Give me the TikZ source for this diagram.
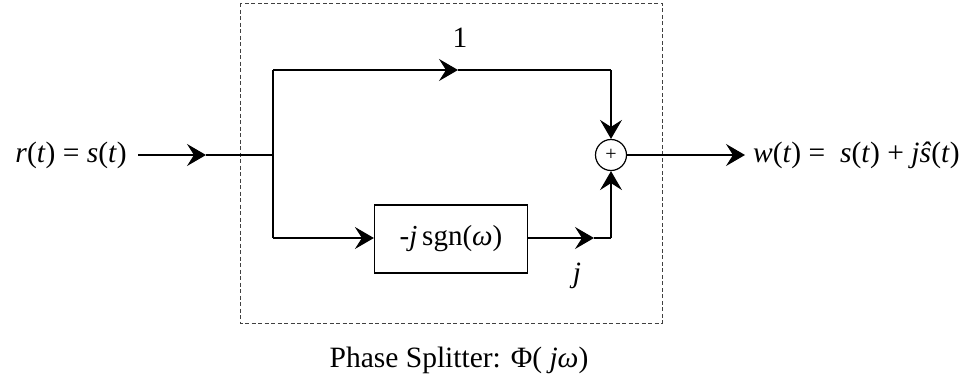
\documentclass[tikz,border=0pt]{standalone}
\usepackage{fontspec}
\setmainfont{Liberation Serif}
\usetikzlibrary{arrows.meta}

\tikzset{
  wire/.style={line width=1.2pt},
  arr/.style={wire, -{Stealth[length=19pt,width=22pt,inset=7pt]}},
  frame/.style={line width=0.8pt, draw=black!75, dash pattern=on 4pt off 2.5pt},
  lbl/.style={font=\fontsize{29.5}{32}\selectfont, inner sep=0pt},
  sumnode/.style={circle, draw, line width=1.2pt, minimum size=31pt, inner sep=0pt, font=\fontsize{20}{22}\selectfont},
  blockbox/.style={draw, line width=1.2pt, minimum width=153pt, minimum height=68pt, inner sep=0pt, font=\fontsize{29}{32}\selectfont}
}

\begin{document}
\begin{tikzpicture}[x=1pt, y=-1pt]
  \useasboundingbox (0,0) rectangle (964,381);

  % dashed outline of the phase splitter
  \draw[frame] (240,3) rectangle (662,323);

  % nodes
  \node[sumnode] (sum) at (611,155) {+};
  \node[blockbox] (hilb) at (451,239) {-\textit{j}\,sgn(\textit{ω})};

  % routing points
  \coordinate (src) at (138,155);
  \coordinate (inTip) at (206,155);
  \coordinate (split) at (273,155);
  \coordinate (upL) at (273,70);
  \coordinate (upTip) at (458,70);
  \coordinate (upR) at (611,70);
  \coordinate (lowL) at (273,238);
  \coordinate (lowTip) at (594,238);
  \coordinate (lowR) at (611,238);
  \coordinate (out) at (745,155);

  % input
  \draw[arr] (src) -- (inTip);
  \draw[wire] (inTip) -- (split);

  % direct branch
  \draw[wire] (split) -- (upL);
  \draw[arr] (upL) -- (upTip);
  \draw[wire] (upTip) -- (upR);
  \draw[arr] (upR) -- (sum.north);

  % Hilbert branch
  \draw[wire] (split) -- (lowL);
  \draw[arr] (lowL) -- (hilb.west |- lowL);
  \draw[arr] (hilb.east |- lowL) -- (lowTip);
  \draw[wire] (lowTip) -- (lowR);
  \draw[arr] (lowR) -- (sum.south);

  % output
  \draw[arr] (sum.east) -- (out);

  % labels
  \node[lbl, anchor=east] (inLbl) at (127,155) {\textit{r}(\textit{t}) = \textit{s}(\textit{t})};
  \node[lbl, anchor=west] (outLbl) at (753,155) {\textit{w}(\textit{t}) = \ \textit{s}(\textit{t}) + \textit{j\^s}(\textit{t})};
  \node[lbl] (oneLbl) at (460,38) {1};
  \node[lbl] (jLbl) at (577,276) {\textit{j}};
  \node[lbl] (title) at (459,360) {Phase Splitter: Φ( \textit{jω})};
\end{tikzpicture}
\end{document}
